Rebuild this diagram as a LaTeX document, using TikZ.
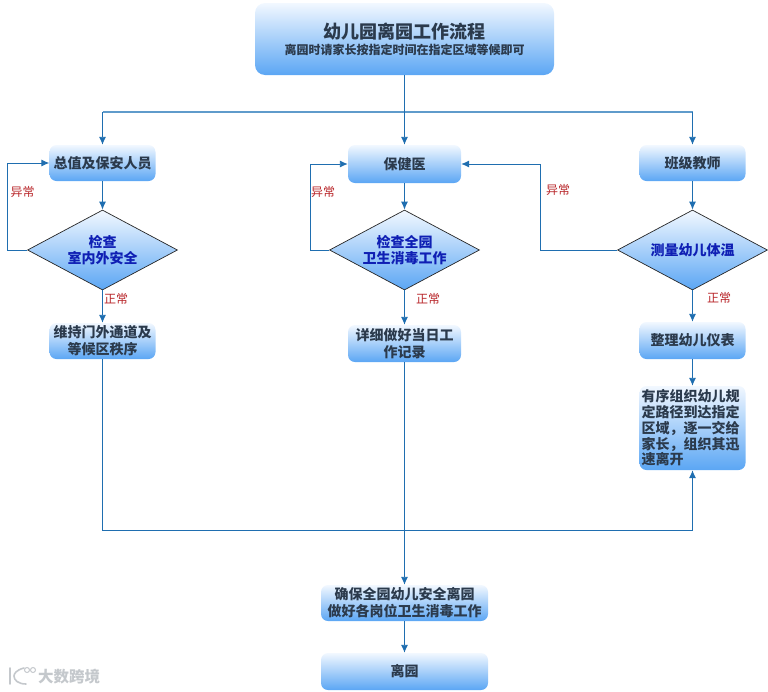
\documentclass[tikz,border=0pt]{standalone}
\usepackage{fontspec}
\setmainfont{Noto Sans CJK SC}
\usepackage{xcolor}
\usetikzlibrary{arrows.meta,shapes.geometric}
\definecolor{ink}{HTML}{2B3A4C}
\definecolor{skytop}{HTML}{F2F8FF}
\definecolor{skyend}{HTML}{5BA6F4}
\definecolor{flowblue}{HTML}{1F6EB0}
\definecolor{branch}{HTML}{5F9BCB}
\definecolor{royal}{HTML}{0F1FB4}
\definecolor{warn}{HTML}{B8262A}
\definecolor{brandgray}{HTML}{C4C8CC}
\tikzset{
  box/.style={rectangle, rounded corners=7pt, top color=skytop, bottom color=skyend,
              text=ink, align=center, inner sep=0pt, font=\fontsize{14}{17}\selectfont\bfseries},
  stepbox/.style={box, minimum width=106pt, minimum height=36pt},
  widebox/.style={box, minimum width=167pt, minimum height=36pt},
  checkbox/.style={diamond, aspect=1.875, draw=black!85, line width=0.7pt, top color=skytop, bottom color=skyend,
              text=royal, align=center, inner sep=0pt, minimum width=150pt, minimum height=80pt,
              font=\fontsize{14}{16.5}\selectfont\bfseries},
  lbl/.style={text=warn, inner sep=0pt, font=\fontsize{12}{14}\selectfont},
  flow/.style={-{Latex[length=8pt,width=7pt]}, draw=flowblue, line width=0.9pt},
  plainflow/.style={draw=flowblue, line width=0.9pt},
  branchflow/.style={draw=branch, line width=1.2pt},
  logo/.style={draw=brandgray, line cap=round},
}
\begin{document}
\begin{tikzpicture}[x=1pt,y=-1pt]
\useasboundingbox (0,0) rectangle (768,691);

\node[box, rounded corners=10pt, minimum width=299pt, minimum height=72pt] (title) at (404.5,39)
  {{\fontsize{18}{21}\selectfont 幼儿园离园工作流程}\\[-1pt]{\fontsize{12}{13}\selectfont 离园时请家长按指定时间在指定区域等候即可}};

\coordinate (split) at (404.5,112);
\coordinate (splitl) at (102.5,112);
\coordinate (splitr) at (692.5,112);

\node[stepbox] (guard) at (102.5,163) {总值及保安人员};
\node[stepbox, minimum width=113pt, minimum height=38pt] (doctor) at (404.5,164) {保健医};
\node[stepbox] (teacher) at (692.5,163) {班级教师};

\node[checkbox] (safe) at (102.5,250) {检查\\室内外安全};
\node[checkbox] (clean) at (404.5,250) {检查全园\\卫生消毒工作};
\node[checkbox] (temp) at (692.5,250) {测量幼儿体温};

\node[stepbox] (order) at (102.5,341) {维持门外通道及\\等候区秩序};
\node[stepbox, minimum width=113pt, minimum height=37pt] (record) at (404.5,343.5) {详细做好当日工\\作记录};
\node[stepbox, minimum height=37pt] (tidy) at (692.5,340.5) {整理幼儿仪表};
\node[stepbox, minimum height=84pt, align=left, text width=102pt, font=\fontsize{14}{15.8}\selectfont\bfseries] (handover) at (692.5,428)
  {有序组织幼儿规\\定路径到达指定\\区域，逐一交给\\家长，组织其迅\\速离开};

\node[widebox] (ensure) at (404.5,603) {确保全园幼儿安全离园\\做好各岗位卫生消毒工作};
\node[widebox, minimum height=37pt] (leave) at (404.5,671.5) {离园};

\coordinate (joinl) at (102.5,530);
\coordinate (joinc) at (404.5,530);
\coordinate (joinr) at (692.5,530);

% top split
\draw[branchflow] (splitl) -- (split) -- (splitr);
\draw[flow] (title.south) -- (doctor.north);
\draw[flow] (splitl) -- (guard.north);
\draw[flow] (splitr) -- (teacher.north);

% three lanes
\draw[flow] (guard) -- (safe);
\draw[flow] (doctor) -- (clean);
\draw[flow] (teacher) -- (temp);
\draw[flow] (safe.south) -- (order.north);
\draw[flow] (clean.south) -- (record.north);
\draw[flow] (temp.south) -- (tidy.north);
\draw[flow] (tidy) -- (handover);

% back to the start of a lane
\draw[flow] (safe.west) -- (7,250) |- (guard.west);
\draw[flow] (clean.west) -- (310,250) |- (doctor.west);
\draw[flow] (temp.west) -- (540,250) |- (doctor.east);

% bottom join
\draw[plainflow] (order.south) -- (joinl) -- (joinc);
\draw[flow] (joinc) -- (joinr) -- (handover.south);
\draw[flow] (record.south) -- (ensure.north);
\draw[flow] (ensure) -- (leave);

\node[lbl] (abnl) at (22.5,191.5) {异常};
\node[lbl] (okl) at (116,298.5) {正常};
\node[lbl] (abnc) at (323,191.5) {异常};
\node[lbl] (okc) at (428,298.5) {正常};
\node[lbl] (abnr) at (558,190) {异常};
\node[lbl] (okr) at (719,297.5) {正常};

% watermark
\draw[logo, line width=1.6pt] (10,668) -- (10,684);
\draw[logo, line width=1.6pt] (24,668) .. controls (16,670) and (14,674) .. (14,676) .. controls (14,680) and (18,684) .. (26,684);
\draw[logo, line width=1pt] (27,670) circle (2.5pt) (33,670) circle (2.5pt);
\node[text=brandgray, inner sep=0pt, font=\fontsize{15.5}{17}\selectfont\bfseries] (brand) at (69,677) {大数跨境};
\end{tikzpicture}
\end{document}
